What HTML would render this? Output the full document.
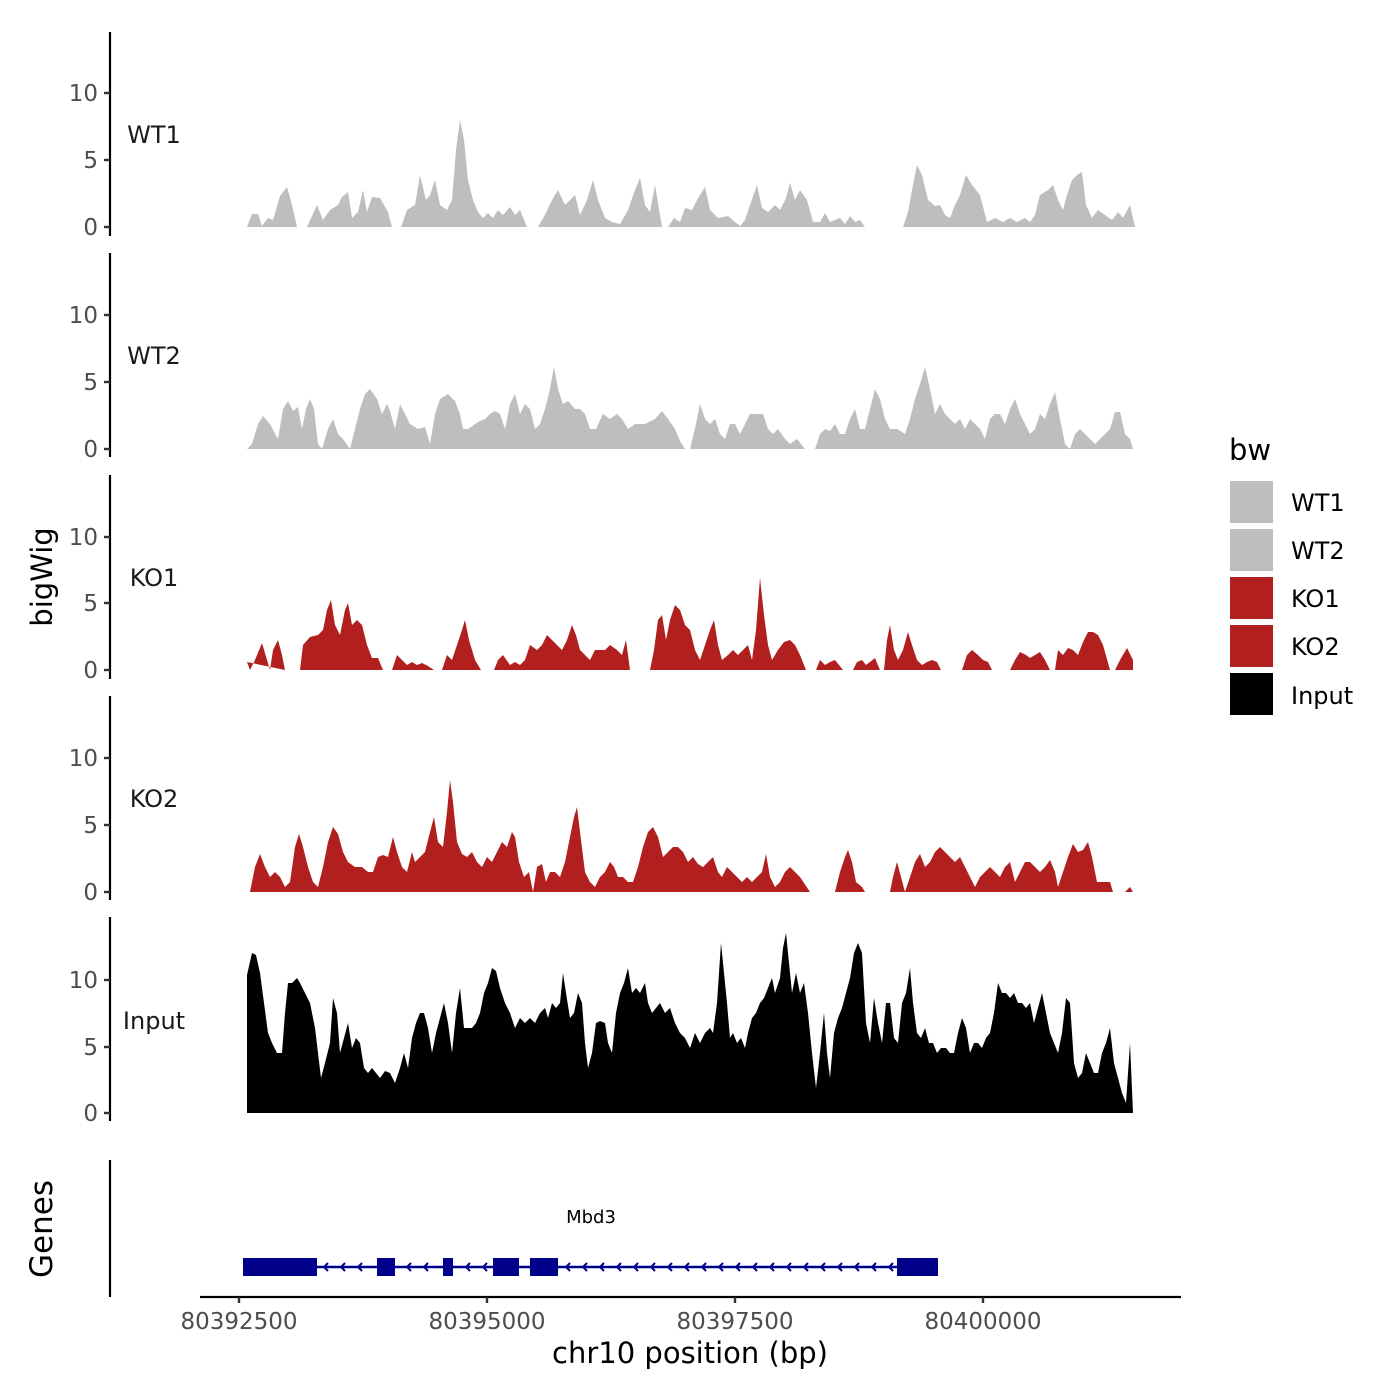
<!DOCTYPE html>
<html><head><meta charset="utf-8"><style>body{margin:0;background:#fff}svg{display:block}text{font-family:"DejaVu Sans","Liberation Sans",sans-serif}</style></head><body>
<svg width="1400" height="1400" viewBox="0 0 1400 1400" xmlns="http://www.w3.org/2000/svg">
<rect width="1400" height="1400" fill="#fff"/>
<!-- WT1 -->
<g transform="translate(0,227) scale(1,-1)" fill="#bebebe">
<polygon points="247,0 252,13 258,13 262,1 268,9 273,7 280,31 287,40 292,22 297,0"/>
<polygon points="307,0 317,22 323,7 330,17 338,22 342,30 348,35 352,9 358,15 363,37 367,15 372,30 380,29 388,15 392,0"/>
<polygon points="401,0 407,17 415,22 420,52 426,27 430,32 435,47 440,22 447,17 452,27 456,77 460,107 464,87 468,47 473,27 478,15 483,9 488,14 493,9 498,17 503,12 510,20 515,12 520,17 527,0"/>
<polygon points="538,0 545,12 552,27 558,37 565,22 570,27 575,32 580,12 587,27 593,47 598,27 605,9 612,5 620,3 628,17 635,37 640,49 645,22 650,15 655,42 660,12 662,0"/>
<polygon points="668,0 674,9 680,5 685,19 692,17 697,27 705,40 710,17 718,9 728,11 735,5 740,1 745,7 750,22 757,42 762,19 768,15 775,22 780,17 786,29 790,44 795,27 800,37 807,27 813,5 820,5 825,14 830,5 835,7 840,9 845,3 850,11 855,5 860,7 865,0"/>
<polygon points="903,0 908,15 912,37 917,62 922,52 928,27 935,21 940,22 945,12 950,9 955,22 960,32 966,52 972,42 980,32 987,5 995,9 1003,5 1010,9 1017,5 1025,9 1030,5 1035,12 1040,32 1048,37 1053,42 1058,27 1063,17 1067,32 1072,47 1077,52 1082,55 1086,22 1092,9 1098,17 1105,12 1112,7 1118,15 1123,9 1130,22 1135,0"/>
</g>
<!-- WT2 -->
<g transform="translate(0,449) scale(1,-1)" fill="#bebebe">
<polygon points="247,0 252,5 258,25 263,33 270,25 278,10 283,40 288,48 293,38 298,42 302,20 306,40 310,50 314,40 318,5 322,0 328,20 333,30 338,15 343,10 350,0 355,20 360,40 365,55 370,60 377,50 382,35 387,45 390,38 395,20 400,45 405,35 410,25 418,20 425,22 430,5 435,35 440,50 448,55 455,48 460,35 463,20 468,20 475,25 480,28 485,30 490,35 495,38 500,35 505,20 510,45 515,55 520,35 525,45 530,40 535,20 540,25 545,40 550,60 554,82 558,60 563,45 568,48 575,40 580,40 585,35 590,20 596,20 603,35 610,30 617,35 622,30 628,20 635,25 645,25 655,30 662,38 668,30 675,20 680,8 685,0"/>
<polygon points="690,0 696,25 700,45 705,30 710,25 715,30 720,15 725,10 730,25 735,25 740,15 745,25 750,35 757,35 763,35 768,20 773,15 778,20 785,10 790,5 797,10 805,0"/>
<polygon points="815,0 820,15 825,20 830,18 835,25 840,15 845,15 850,30 855,40 860,20 865,20 870,40 875,60 880,50 885,30 890,20 897,20 905,15 910,30 915,50 920,65 925,82 930,60 935,35 940,45 945,35 950,30 955,25 960,30 965,20 970,30 975,25 980,20 985,10 990,30 995,35 1000,35 1005,25 1010,40 1015,50 1020,35 1025,25 1030,15 1035,20 1040,35 1045,30 1050,45 1055,57 1060,30 1065,5 1070,0 1075,15 1080,20 1085,15 1090,10 1095,5 1100,10 1105,15 1110,20 1115,37 1120,37 1125,15 1130,10 1133,0"/>
</g>
<!-- KO1 -->
<g transform="translate(0,670) scale(1,-1)" fill="#b21f1f">
<polygon points="247,8 250,0 255,10 262,27 267,10 270,0 273,20 278,30 282,15 285,0"/>
<polygon points="300,0 303,25 310,33 318,35 323,40 327,60 331,70 335,45 340,35 345,60 348,67 352,45 357,50 362,45 367,25 372,12 378,12 383,0"/>
<polygon points="392,0 397,15 402,10 407,5 412,8 417,5 422,7 428,4 434,0"/>
<polygon points="442,0 447,15 452,10 457,25 462,40 465,50 469,30 475,10 481,0"/>
<polygon points="494,0 498,10 503,15 510,5 515,8 520,5 525,10 530,25 537,20 542,25 547,35 552,30 557,25 562,20 567,30 572,45 576,35 580,20 585,15 590,10 595,20 600,20 605,20 610,25 617,20 622,15 626,30 630,0"/>
<polygon points="650,0 654,20 658,50 662,55 666,30 670,50 675,65 680,60 685,45 690,40 695,20 700,10 705,25 710,40 714,50 718,25 722,10 728,15 733,20 738,15 743,20 748,25 752,10 756,40 760,92 764,55 768,25 772,10 778,20 784,28 790,30 795,25 800,15 806,0"/>
<polygon points="816,0 820,10 825,5 830,8 835,10 843,0"/>
<polygon points="853,0 857,8 862,10 866,5 870,8 875,12 880,0"/>
<polygon points="884,0 887,30 890,45 894,20 898,10 903,20 908,38 912,25 917,10 922,5 927,8 932,10 937,8 941,0"/>
<polygon points="962,0 967,15 972,20 978,15 983,10 988,8 992,0"/>
<polygon points="1010,0 1015,10 1020,18 1026,15 1030,12 1035,15 1040,18 1045,10 1050,0"/>
<polygon points="1055,0 1058,20 1063,15 1068,22 1073,20 1078,15 1083,28 1088,38 1093,38 1098,35 1103,25 1110,0"/>
<polygon points="1115,0 1120,10 1127,22 1133,10 1133,0"/>
</g>
<!-- KO2 -->
<g transform="translate(0,892) scale(1,-1)" fill="#b21f1f">
<polygon points="250,0 255,25 260,38 265,25 270,15 275,20 280,15 285,5 290,10 295,45 299,58 303,45 308,25 313,10 318,5 323,25 328,50 333,65 338,58 343,40 348,30 355,25 362,25 368,20 373,20 378,35 383,37 388,35 393,55 397,40 402,25 407,20 412,40 415,30 420,35 425,40 430,60 434,75 438,50 443,45 447,80 450,112 453,90 457,50 462,38 467,35 472,40 477,30 482,25 487,35 492,30 497,40 502,50 507,45 512,60 515,55 519,30 524,15 529,20 533,0 537,25 542,28 546,10 550,20 555,20 560,15 565,30 570,55 574,75 577,85 580,60 585,20 590,10 595,5 600,15 605,20 610,30 614,25 618,15 623,15 628,10 633,10 638,25 643,45 648,60 653,65 658,55 663,35 668,40 673,45 678,45 683,40 688,30 693,35 698,28 703,25 708,30 713,35 718,20 722,15 727,25 732,20 737,15 742,10 747,15 752,10 757,15 762,20 766,38 770,15 775,5 780,10 785,20 790,25 795,20 800,15 810,0"/>
<polygon points="835,0 840,20 845,35 848,42 852,30 856,10 862,5 865,0"/>
<polygon points="890,0 893,15 897,30 901,15 905,0 910,15 915,30 920,38 925,25 930,30 935,40 940,45 945,40 950,35 955,30 960,35 965,25 970,15 975,5 980,15 985,20 990,25 995,20 1000,15 1005,25 1010,30 1015,10 1020,20 1025,30 1030,30 1035,25 1040,20 1045,25 1050,32 1055,20 1058,5 1063,20 1068,35 1073,48 1078,40 1083,42 1088,50 1092,35 1097,10 1105,10 1110,10 1113,0"/>
<polygon points="1125,0 1130,5 1133,0"/>
</g>
<!-- Input -->
<g transform="translate(0,1113) scale(1,-1)" fill="#000">
<polygon points="247,0 247,138 252,160 256,158 260,140 264,110 268,80 272,70 277,60 282,60 285,100 288,130 292,130 297,135 300,130 305,120 310,110 315,85 318,60 321,35 325,50 330,70 333,115 337,100 340,60 344,75 348,90 352,65 356,75 360,70 364,45 368,40 372,45 376,40 380,35 385,42 390,40 395,30 400,45 404,60 408,45 412,75 416,90 420,100 424,100 428,85 432,60 436,80 440,95 444,110 448,90 452,60 456,100 460,125 464,85 468,85 472,85 476,90 480,100 484,120 488,130 492,145 496,142 500,125 505,110 510,100 515,85 520,95 525,90 530,95 535,90 540,100 545,105 548,95 552,110 556,105 560,110 563,140 566,120 570,95 574,100 578,120 582,110 585,70 588,45 592,60 596,90 600,92 605,90 608,70 612,60 616,100 620,120 624,130 628,145 632,120 636,125 640,120 645,130 648,110 652,100 656,105 660,110 665,100 670,105 675,90 680,80 685,75 690,65 695,80 700,70 705,80 710,85 713,80 717,110 721,170 724,140 727,110 730,75 733,80 737,70 741,75 745,65 748,80 752,95 756,100 760,110 764,115 768,125 772,135 775,120 780,135 783,165 786,180 789,150 792,120 796,140 800,120 804,130 808,100 812,60 816,25 820,60 824,100 827,60 830,35 834,80 838,95 842,105 846,120 850,135 854,160 858,170 862,160 866,90 870,70 874,115 878,90 882,70 886,110 890,110 894,75 898,70 902,110 906,120 910,145 913,110 917,80 921,75 925,85 929,70 933,70 937,60 941,65 946,65 950,60 954,60 958,80 962,95 966,85 970,60 974,70 978,70 982,65 986,75 990,80 994,100 998,130 1002,120 1006,120 1010,115 1014,120 1018,110 1022,110 1026,105 1030,110 1034,90 1038,105 1042,120 1046,100 1050,80 1054,70 1058,60 1062,80 1066,115 1070,110 1074,50 1078,35 1082,40 1086,60 1090,50 1094,40 1098,40 1102,60 1106,70 1110,85 1114,50 1118,35 1122,20 1126,10 1130,70 1133,0"/>
</g>
<!-- axes -->
<g stroke="#000" stroke-width="2.2" fill="none">
<line x1="110" y1="32" x2="110" y2="236"/>
<line x1="110" y1="253" x2="110" y2="457"/>
<line x1="110" y1="475" x2="110" y2="679"/>
<line x1="110" y1="696" x2="110" y2="900"/>
<line x1="110" y1="917" x2="110" y2="1121"/>
<line x1="110" y1="1160" x2="110" y2="1297"/>
<line x1="200" y1="1297" x2="1181" y2="1297"/>
</g>
<g stroke="#333" stroke-width="2.4">
<line x1="104" y1="93" x2="110" y2="93"/><line x1="104" y1="160" x2="110" y2="160"/><line x1="104" y1="227" x2="110" y2="227"/>
<line x1="104" y1="315" x2="110" y2="315"/><line x1="104" y1="382" x2="110" y2="382"/><line x1="104" y1="449" x2="110" y2="449"/>
<line x1="104" y1="537" x2="110" y2="537"/><line x1="104" y1="603" x2="110" y2="603"/><line x1="104" y1="670" x2="110" y2="670"/>
<line x1="104" y1="758" x2="110" y2="758"/><line x1="104" y1="825" x2="110" y2="825"/><line x1="104" y1="892" x2="110" y2="892"/>
<line x1="104" y1="980" x2="110" y2="980"/><line x1="104" y1="1047" x2="110" y2="1047"/><line x1="104" y1="1113" x2="110" y2="1113"/>
<line x1="239" y1="1297" x2="239" y2="1303"/><line x1="487" y1="1297" x2="487" y2="1303"/><line x1="735" y1="1297" x2="735" y2="1303"/><line x1="983" y1="1297" x2="983" y2="1303"/>
</g>
<g fill="#4d4d4d" font-size="23" text-anchor="end">
<text x="98" y="101">10</text><text x="98" y="168">5</text><text x="98" y="235">0</text>
<text x="98" y="323">10</text><text x="98" y="390">5</text><text x="98" y="457">0</text>
<text x="98" y="545">10</text><text x="98" y="611">5</text><text x="98" y="678">0</text>
<text x="98" y="766">10</text><text x="98" y="833">5</text><text x="98" y="900">0</text>
<text x="98" y="988">10</text><text x="98" y="1055">5</text><text x="98" y="1121">0</text>
</g>
<g fill="#4d4d4d" font-size="23" text-anchor="middle">
<text x="239" y="1329">80392500</text><text x="487" y="1329">80395000</text><text x="735" y="1329">80397500</text><text x="983" y="1329">80400000</text>
</g>
<g fill="#1a1a1a" font-size="24" text-anchor="middle">
<text x="154" y="143">WT1</text><text x="154" y="364">WT2</text><text x="154" y="586">KO1</text><text x="154" y="807">KO2</text><text x="154" y="1029">Input</text>
</g>
<text x="690" y="1363" font-size="29" text-anchor="middle">chr10 position (bp)</text>
<text transform="translate(52,577) rotate(-90)" font-size="29" text-anchor="middle">bigWig</text>
<text transform="translate(52,1229) rotate(-90)" font-size="31" text-anchor="middle">Genes</text>
<!-- gene -->
<g fill="#00008b" stroke="#00008b">
<line x1="243" y1="1267" x2="938" y2="1267" stroke-width="2.5"/>
<rect x="243" y="1258" width="50" height="18" stroke="none"/>
<rect x="293" y="1258" width="24" height="18" stroke="none"/>
<rect x="377" y="1258" width="18" height="18" stroke="none"/>
<rect x="443" y="1258" width="10" height="18" stroke="none"/>
<rect x="493" y="1258" width="26" height="18" stroke="none"/>
<rect x="530" y="1258" width="28" height="18" stroke="none"/>
<rect x="897" y="1258" width="41" height="18" stroke="none"/>
</g>
<g stroke="#00008b" stroke-width="2" fill="none">
<path d="M328,1263 l-4,4 l4,4 M345,1263 l-4,4 l4,4 M362,1263 l-4,4 l4,4 M411,1263 l-4,4 l4,4 M428,1263 l-4,4 l4,4 M470,1263 l-4,4 l4,4 M487,1263 l-4,4 l4,4 M570,1263 l-4,4 l4,4 M587,1263 l-4,4 l4,4 M604,1263 l-4,4 l4,4 M621,1263 l-4,4 l4,4 M638,1263 l-4,4 l4,4 M655,1263 l-4,4 l4,4 M672,1263 l-4,4 l4,4 M689,1263 l-4,4 l4,4 M706,1263 l-4,4 l4,4 M723,1263 l-4,4 l4,4 M740,1263 l-4,4 l4,4 M757,1263 l-4,4 l4,4 M774,1263 l-4,4 l4,4 M791,1263 l-4,4 l4,4 M808,1263 l-4,4 l4,4 M825,1263 l-4,4 l4,4 M842,1263 l-4,4 l4,4 M859,1263 l-4,4 l4,4 M876,1263 l-4,4 l4,4 M893,1263 l-4,4 l4,4"/>
</g>
<text x="591" y="1223" font-size="18" text-anchor="middle">Mbd3</text>
<!-- legend -->
<text x="1229" y="460" font-size="29">bw</text>
<rect x="1230" y="481" width="43" height="42" fill="#bebebe"/>
<rect x="1230" y="529" width="43" height="42" fill="#bebebe"/>
<rect x="1230" y="577" width="43" height="42" fill="#b21f1f"/>
<rect x="1230" y="625" width="43" height="42" fill="#b21f1f"/>
<rect x="1230" y="673" width="43" height="42" fill="#000"/>
<g font-size="24">
<text x="1291" y="511">WT1</text><text x="1291" y="559">WT2</text><text x="1291" y="607">KO1</text><text x="1291" y="655">KO2</text><text x="1291" y="704">Input</text>
</g>
</svg>
</body></html>
